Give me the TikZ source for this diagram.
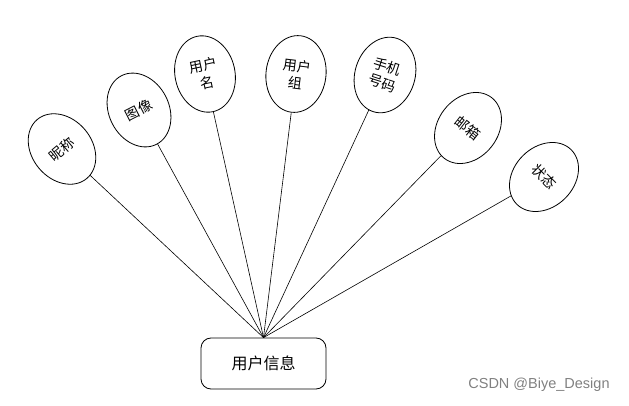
\documentclass[tikz,border=0pt]{standalone}
\usepackage{fontspec}
\newfontfamily\cjk{Noto Sans CJK SC}
\newfontfamily\wm{Liberation Sans}
\usetikzlibrary{shapes.geometric}
\begin{document}
\begin{tikzpicture}[x=1pt,y=-1pt,
  attr/.style={draw,ellipse,line width=0.8pt,minimum width=60pt,minimum height=77pt,inner sep=0pt,
    font=\cjk\fontsize{14}{17}\selectfont,align=center},
  entity/.style={draw,rounded corners=10pt,line width=0.8pt,minimum width=125pt,minimum height=51pt,
    font=\cjk\fontsize{16}{19}\selectfont},
  link/.style={line width=0.6pt}]
\useasboundingbox (0,0) rectangle (629,406);
\node[entity] (hub) at (263.5,363.5) {用户信息};
\node[attr,rotate=40] (a1) at (62,149) {昵称};
\node[attr,rotate=27] (a2) at (139,110) {图像};
\node[attr,rotate=12] (a3) at (205,74) {用户\\名};
\node[attr,rotate=-7] (a4) at (296,74) {用户\\组};
\node[attr,rotate=-18] (a5) at (385,75) {手机\\号码};
\node[attr,rotate=-38] (a6) at (468,128) {邮箱};
\node[attr,rotate=-45] (a7) at (544,177) {状态};
\foreach \i in {1,...,7} \draw[link] (a\i) -- (hub.north);
\node[font=\wm\fontsize{14.5}{17}\selectfont,text=black!50] (wmk) at (539,385) {CSDN @Biye\_Design};
\end{tikzpicture}
\end{document}
